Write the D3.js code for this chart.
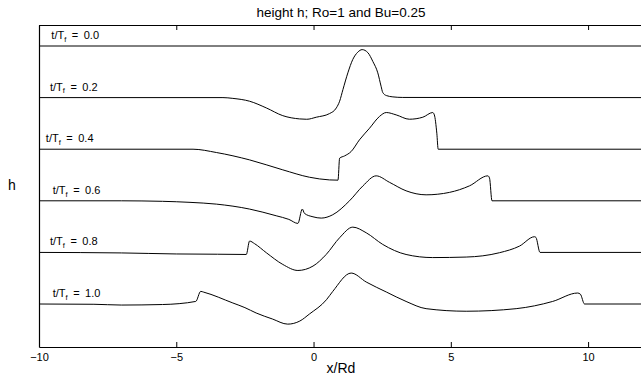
<!DOCTYPE html>
<html>
<head>
<meta charset="utf-8">
<script src="https://cdn.jsdelivr.net/npm/d3@7"></script>
<style>
  html, body { margin: 0; padding: 0; background: #fff; }
  svg { display: block; }
  text { font-family: "Liberation Sans", Arial, Helvetica, sans-serif; fill: #000; }
</style>
</head>
<body>
<div id="chart"></div>
<script>
// ---------------- data ----------------
const titleText = "height h; Ro=1 and Bu=0.25";
const xLabelText = "x/Rd";
const yLabelText = "h";
const xDomain = [-10, 12];
const xTickValues = [-10, -5, 0, 5, 10];
const timeLabels = ["0.0", "0.2", "0.4", "0.6", "0.8", "1.0"];
const curveOffsets = [0, -1, -2, -3, -4, -5];

// t/Tf = 0.0
const x00 = [-10, 12];
const h00 = [0, 0];
// t/Tf = 0.2
const x02 = [-10, -3.3, -2.94, -2.33, -1.72, -1.12, -0.51, -0.25, 0.10, 0.58, 0.83, 0.95, 1.07, 1.25, 1.43, 1.61, 1.77, 1.98, 2.16, 2.34, 2.46, 2.52, 2.65, 2.89, 3.25, 12];
const h02 = [0, 0, -0.015, -0.07, -0.20, -0.35, -0.413, -0.42, -0.38, -0.31, -0.20, -0.07, 0.155, 0.48, 0.74, 0.88, 0.93, 0.87, 0.70, 0.48, 0.22, 0.10, 0.04, 0.014, 0.003, 0];
// t/Tf = 0.4
const x04 = [-10, -4.39, -3.54, -2.33, -1.12, -0.15, 0.58, 0.89, 0.95, 1.13, 1.37, 1.67, 2.04, 2.40, 2.65, 3.01, 3.49, 3.98, 4.34, 4.40, 4.49, 4.54, 12];
const h04 = [0, 0, -0.064, -0.207, -0.40, -0.543, -0.595, -0.60, -0.174, -0.13, -0.045, 0.18, 0.407, 0.634, 0.711, 0.665, 0.581, 0.62, 0.711, 0.665, 0.31, 0, 0];
// t/Tf = 0.6
const x06 = [-10, -7, -5.5, -4.5, -3.54, -2.33, -1.36, -0.9, -0.57, -0.41, -0.33, -0.02, 0.28, 0.70, 1.31, 1.80, 2.28, 2.77, 3.37, 4.10, 4.95, 5.68, 6.35, 6.41, 6.50, 12];
const h06 = [0, 0, -0.01, -0.03, -0.064, -0.16, -0.29, -0.36, -0.438, -0.16, -0.244, -0.31, -0.335, -0.27, 0, 0.29, 0.484, 0.357, 0.194, 0.116, 0.163, 0.29, 0.484, 0.44, 0, 0];
// t/Tf = 0.8
const x08 = [-10, -7, -5, -3.5, -2.45, -2.33, -2.15, -1.72, -1.12, -0.57, -0.02, 0.46, 0.95, 1.43, 1.92, 2.52, 3.37, 4.34, 5.56, 6.77, 7.50, 8.05, 8.10, 8.25, 12];
const h08 = [0, -0.01, -0.03, -0.035, -0.04, 0.22, 0.17, -0.006, -0.233, -0.35, -0.265, -0.04, 0.285, 0.49, 0.38, 0.155, -0.04, -0.10, -0.09, -0.006, 0.122, 0.304, 0.29, 0, 0];
// t/Tf = 1.0
const x10 = [-10, -8, -7, -5.5, -4.29, -4.11, -4.0, -2.94, -2.50, -2.09, -1.5, -0.94, -0.5, -0.15, 0.47, 0.70, 1.37, 1.92, 2.65, 3.37, 4.10, 5.56, 7.38, 8.71, 9.62, 9.72, 9.87, 12];
const h10 = [0, -0.005, -0.02, -0.01, 0.05, 0.245, 0.23, 0.02, -0.07, -0.174, -0.29, -0.39, -0.33, -0.194, 0.083, 0.244, 0.60, 0.426, 0.233, 0.05, -0.09, -0.14, -0.09, 0.05, 0.213, 0.19, 0, 0];

const curvesX = [x00, x02, x04, x06, x08, x10];
const curvesH = [h00, h02, h04, h06, h08, h10];

// ---------------- layout ----------------
const W = 641, H = 379;
const margin = { left: 39, right: -2, top: 25, bottom: 32 };
const plotW = W - margin.left - margin.right;
const plotH = H - margin.top - margin.bottom;

const svg = d3.select("#chart").append("svg")
  .attr("width", W).attr("height", H);

const x = d3.scaleLinear().domain(xDomain).range([margin.left, margin.left + plotW]);
const y = d3.scaleLinear().domain([-5.833, 0.407]).range([margin.top + plotH, margin.top]);

// curves
const line = d3.line()
  .x(d => x(d[0]))
  .y(d => y(d[1]))
  .curve(d3.curveMonotoneX);

curvesX.forEach((xs, i) => {
  const pts = xs.map((xv, j) => [xv, curvesH[i][j] + curveOffsets[i]]);
  svg.append("path")
    .attr("d", line(pts))
    .attr("fill", "none")
    .attr("stroke", "#000")
    .attr("stroke-width", 1);
});

// labels
const labelX = [-9.55, -9.6, -9.75, -9.5, -9.6, -9.5];
timeLabels.forEach((lab, i) => {
  const t = svg.append("text")
    .attr("x", x(labelX[i]))
    .attr("y", y(curveOffsets[i]) - 7)
    .attr("font-size", 11);
  t.append("tspan").text("t/T");
  t.append("tspan").attr("font-size", 7.5).attr("dy", 2.8).text("f");
  t.append("tspan").attr("dy", -2.8).text("\u2002=\u2002" + lab);
});

// axes
const bottomAxis = d3.axisBottom(x).tickValues(xTickValues).tickSizeInner(-5).tickSizeOuter(0)
  .tickFormat(d => d < 0 ? "\u2212" + Math.abs(d) : d);
const gB = svg.append("g").attr("transform", `translate(0,${margin.top + plotH})`).call(bottomAxis);
gB.select(".domain").attr("stroke", "#000").attr("stroke-width", 1.2);
gB.selectAll(".tick line").attr("stroke", "#000");
gB.selectAll(".tick text").attr("font-size", 11).attr("dy", "1.0em")
  .attr("font-family", "Liberation Sans, Arial, sans-serif");

const topAxis = d3.axisTop(x).tickValues(xTickValues).tickSizeInner(-5).tickSizeOuter(0).tickFormat("");
const gT = svg.append("g").attr("transform", `translate(0,${margin.top})`).call(topAxis);
gT.select(".domain").attr("stroke", "#000").attr("stroke-width", 1.2);

const leftAxis = d3.axisLeft(y).tickValues([]).tickSizeOuter(0);
const gL = svg.append("g").attr("transform", `translate(${margin.left},0)`).call(leftAxis);
gL.select(".domain").attr("stroke", "#000").attr("stroke-width", 1.2);

// title & axis labels
svg.append("text").attr("x", x(1)).attr("y", 17).attr("text-anchor", "middle")
  .attr("font-size", 13.5).text(titleText);
svg.append("text").attr("x", x(1)).attr("y", margin.top + plotH + 26).attr("text-anchor", "middle")
  .attr("font-size", 14).text(xLabelText);
svg.append("text").attr("x", 12).attr("y", (margin.top + margin.top + plotH) / 2 + 4).attr("text-anchor", "middle")
  .attr("font-size", 14).text(yLabelText);
</script>
</body>
</html>
